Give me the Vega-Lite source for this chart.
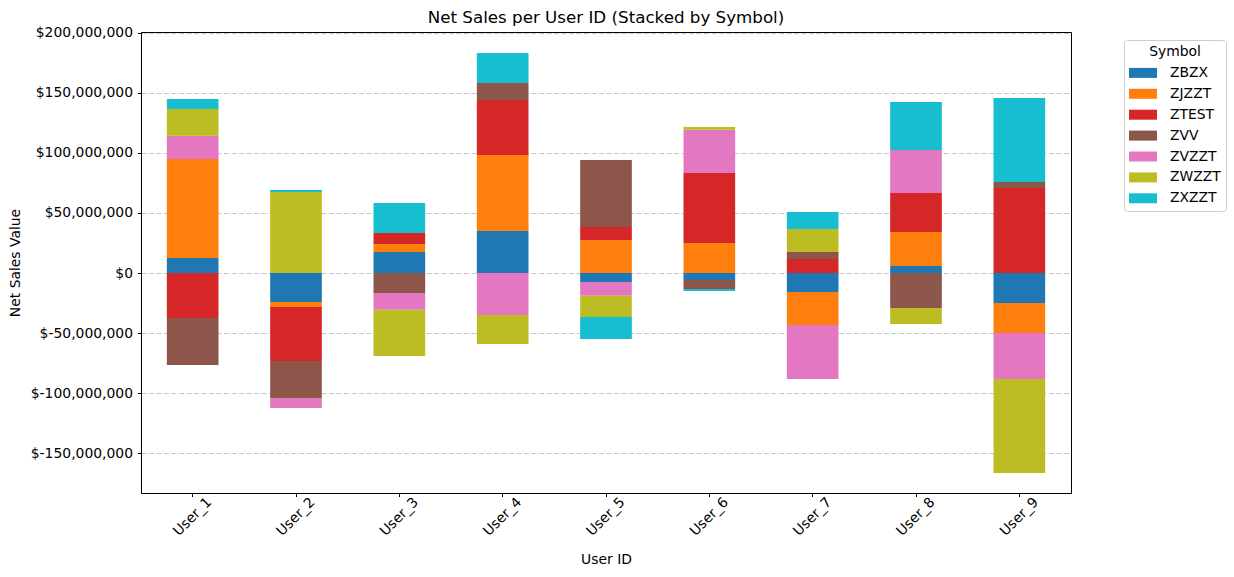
{
  "$schema": "https://vega.github.io/schema/vega-lite/v6.json",
  "autosize": "none",
  "width": 930,
  "height": 461,
  "padding": {"left": 141, "top": 32, "right": 163, "bottom": 84},
  "background": "white",
  "title": {"text": "Net Sales per User ID (Stacked by Symbol)", "fontSize": 16.7, "fontWeight": "normal", "font": "DejaVu Sans", "color": "black", "anchor": "middle", "offset": -1},
  "data": {"values": [
    {"user": "User_1", "symbol": "ZBZX", "value": 12500000},
    {"user": "User_1", "symbol": "ZJZZT", "value": 82500000},
    {"user": "User_1", "symbol": "ZTEST", "value": -37500000},
    {"user": "User_1", "symbol": "ZVV", "value": -39200000},
    {"user": "User_1", "symbol": "ZVZZT", "value": 19400000},
    {"user": "User_1", "symbol": "ZWZZT", "value": 22200000},
    {"user": "User_1", "symbol": "ZXZZT", "value": 8300000},
    {"user": "User_2", "symbol": "ZBZX", "value": -24200000},
    {"user": "User_2", "symbol": "ZJZZT", "value": -4200000},
    {"user": "User_2", "symbol": "ZTEST", "value": -45000000},
    {"user": "User_2", "symbol": "ZVV", "value": -30800000},
    {"user": "User_2", "symbol": "ZVZZT", "value": -8300000},
    {"user": "User_2", "symbol": "ZWZZT", "value": 67500000},
    {"user": "User_2", "symbol": "ZXZZT", "value": 1700000},
    {"user": "User_3", "symbol": "ZBZX", "value": 17500000},
    {"user": "User_3", "symbol": "ZJZZT", "value": 6700000},
    {"user": "User_3", "symbol": "ZTEST", "value": 9200000},
    {"user": "User_3", "symbol": "ZVV", "value": -16700000},
    {"user": "User_3", "symbol": "ZVZZT", "value": -13900000},
    {"user": "User_3", "symbol": "ZWZZT", "value": -38600000},
    {"user": "User_3", "symbol": "ZXZZT", "value": 25000000},
    {"user": "User_4", "symbol": "ZBZX", "value": 35000000},
    {"user": "User_4", "symbol": "ZJZZT", "value": 63300000},
    {"user": "User_4", "symbol": "ZTEST", "value": 45800000},
    {"user": "User_4", "symbol": "ZVV", "value": 14200000},
    {"user": "User_4", "symbol": "ZVZZT", "value": -35000000},
    {"user": "User_4", "symbol": "ZWZZT", "value": -24200000},
    {"user": "User_4", "symbol": "ZXZZT", "value": 25000000},
    {"user": "User_5", "symbol": "ZBZX", "value": -7500000},
    {"user": "User_5", "symbol": "ZJZZT", "value": 27500000},
    {"user": "User_5", "symbol": "ZTEST", "value": 10800000},
    {"user": "User_5", "symbol": "ZVV", "value": 55800000},
    {"user": "User_5", "symbol": "ZVZZT", "value": -11400000},
    {"user": "User_5", "symbol": "ZWZZT", "value": -17800000},
    {"user": "User_5", "symbol": "ZXZZT", "value": -18300000},
    {"user": "User_6", "symbol": "ZBZX", "value": -5800000},
    {"user": "User_6", "symbol": "ZJZZT", "value": 25000000},
    {"user": "User_6", "symbol": "ZTEST", "value": 58300000},
    {"user": "User_6", "symbol": "ZVV", "value": -7500000},
    {"user": "User_6", "symbol": "ZVZZT", "value": 36100000},
    {"user": "User_6", "symbol": "ZWZZT", "value": 2200000},
    {"user": "User_6", "symbol": "ZXZZT", "value": -1700000},
    {"user": "User_7", "symbol": "ZBZX", "value": -15800000},
    {"user": "User_7", "symbol": "ZJZZT", "value": -27500000},
    {"user": "User_7", "symbol": "ZTEST", "value": 11700000},
    {"user": "User_7", "symbol": "ZVV", "value": 5800000},
    {"user": "User_7", "symbol": "ZVZZT", "value": -45000000},
    {"user": "User_7", "symbol": "ZWZZT", "value": 19200000},
    {"user": "User_7", "symbol": "ZXZZT", "value": 14200000},
    {"user": "User_8", "symbol": "ZBZX", "value": 5800000},
    {"user": "User_8", "symbol": "ZJZZT", "value": 28300000},
    {"user": "User_8", "symbol": "ZTEST", "value": 32500000},
    {"user": "User_8", "symbol": "ZVV", "value": -29200000},
    {"user": "User_8", "symbol": "ZVZZT", "value": 35800000},
    {"user": "User_8", "symbol": "ZWZZT", "value": -13300000},
    {"user": "User_8", "symbol": "ZXZZT", "value": 40000000},
    {"user": "User_9", "symbol": "ZBZX", "value": -25000000},
    {"user": "User_9", "symbol": "ZJZZT", "value": -25000000},
    {"user": "User_9", "symbol": "ZTEST", "value": 70800000},
    {"user": "User_9", "symbol": "ZVV", "value": 5000000},
    {"user": "User_9", "symbol": "ZVZZT", "value": -38300000},
    {"user": "User_9", "symbol": "ZWZZT", "value": -78300000},
    {"user": "User_9", "symbol": "ZXZZT", "value": 70000000}
  ]},
  "mark": {"type": "bar"},
  "encoding": {
    "x": {
      "field": "user", "type": "nominal", "title": "User ID",
      "scale": {"paddingInner": 0.5, "paddingOuter": 0.25},
      "axis": {"labelAngle": -45, "labelAlign": "center", "labelBaseline": "middle", "labelPadding": 20, "titlePadding": 14, "grid": false}
    },
    "y": {
      "field": "value", "type": "quantitative", "title": "Net Sales Value", "stack": "zero",
      "scale": {"domain": [-183300000, 200800000], "nice": false, "zero": false},
      "axis": {
        "values": [-150000000, -100000000, -50000000, 0, 50000000, 100000000, 150000000, 200000000],
        "labelExpr": "'$' + replace(format(datum.value, ',.0f'), '\u2212', '-')",
        "labelPadding": 5, "titlePadding": 8,
        "grid": true, "gridDash": [5, 2.5], "gridColor": "#c8c8c8", "gridWidth": 1
      }
    },
    "color": {
      "field": "symbol", "type": "nominal", "title": "Symbol",
      "scale": {
        "domain": ["ZBZX", "ZJZZT", "ZTEST", "ZVV", "ZVZZT", "ZWZZT", "ZXZZT"],
        "range": ["#1f77b4", "#ff7f0e", "#d62728", "#8c564b", "#e377c2", "#bcbd22", "#17becf"]
      },
      "legend": {
        "orient": "none", "legendX": 983, "legendY": 8,
        "symbolType": "M-1,-0.714L3,-0.714L3,0.714L-1,0.714Z", "symbolSize": 196,
        "symbolStrokeWidth": 0, "symbolOpacity": 1,
        "labelOffset": 27, "rowPadding": 6.9,
        "titleAlign": "center", "titleAnchor": "middle", "titleFontWeight": "normal", "titlePadding": 7,
        "titleFontSize": 13.9, "labelFontSize": 13.9, "titleColor": "black", "labelColor": "black",
        "padding": 5, "strokeColor": "#cccccc", "cornerRadius": 3, "fillColor": "white"
      }
    },
    "order": {"field": "symbol", "type": "nominal"}
  },
  "config": {
    "font": "DejaVu Sans",
    "view": {"stroke": "black", "strokeWidth": 1},
    "axis": {
      "labelFontSize": 13.9, "titleFontSize": 13.9, "labelColor": "black", "titleColor": "black",
      "titleFontWeight": "normal", "domainColor": "black", "tickColor": "black", "tickSize": 3.5,
      "labelFont": "DejaVu Sans", "titleFont": "DejaVu Sans"
    },
    "legend": {"labelFont": "DejaVu Sans", "titleFont": "DejaVu Sans"}
  }
}
